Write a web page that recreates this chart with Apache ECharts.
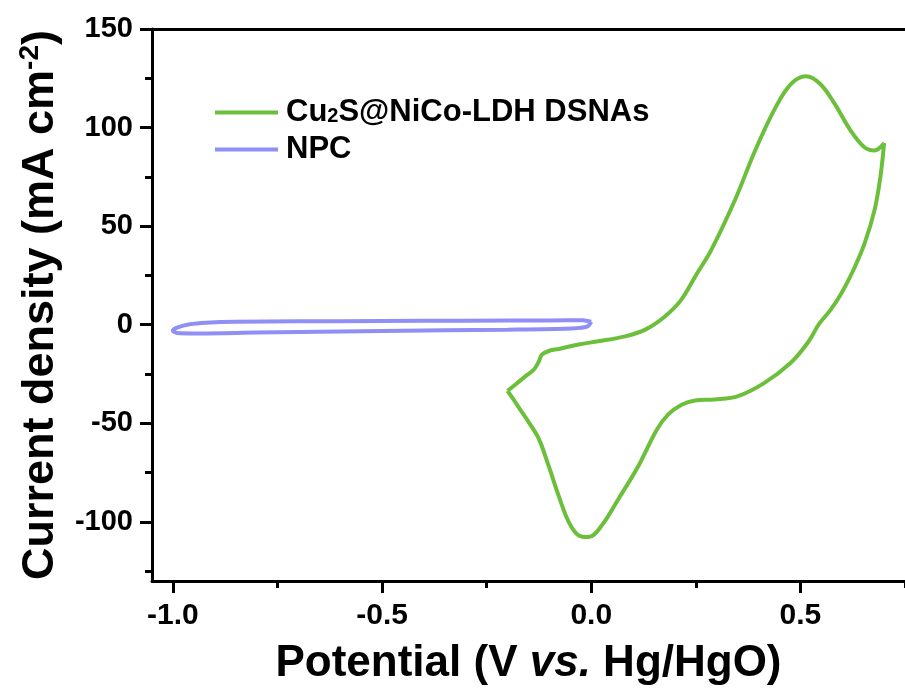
<!DOCTYPE html>
<html>
<head>
<meta charset="utf-8">
<script src="https://cdn.jsdelivr.net/npm/echarts@6/dist/echarts.min.js"></script>
<style>html,body{margin:0;padding:0;background:#fff}#c{width:905px;height:691px}</style>
</head>
<body>
<div id="c"></div>
<script>
// Data: [potential (V), current density (mA cm-2)]
const seriesNames = ['Cu2S@NiCo-LDH DSNAs', 'NPC'];
const cu2sData = [
  [-0.200,-33.5],[-0.181,-30.3],[-0.157,-26.1],[-0.137,-22.7],[-0.125,-18.5],[-0.118,-15.2],
  [-0.100,-13.2],[-0.078,-12.3],[-0.030,-10.0],[0.017,-8.4],[0.081,-5.9],[0.129,-2.5],
  [0.176,4.2],[0.215,12.6],[0.250,25.0],[0.287,38.0],[0.343,63.0],[0.391,88.0],
  [0.439,109.6],[0.477,122.0],[0.513,126.0],[0.548,122.0],[0.582,112.0],[0.620,98.5],
  [0.653,90.0],[0.677,88.4],[0.700,92.0],
  [0.691,74.7],[0.677,58.0],[0.653,41.0],[0.625,27.0],[0.598,16.0],[0.572,7.5],
  [0.545,0.5],[0.517,-9.3],[0.477,-19.3],[0.414,-29.5],[0.351,-36.2],[0.295,-37.9],
  [0.248,-38.4],[0.216,-40.6],[0.184,-45.5],[0.156,-53.5],[0.113,-71.5],[0.065,-88.4],
  [0.025,-101.9],[-0.006,-107.7],[-0.030,-106.9],[-0.054,-100.0],[-0.078,-86.7],
  [-0.102,-71.5],[-0.125,-58.0],[-0.149,-49.6],[-0.173,-42.0],[-0.200,-33.5]
];
const npcData = [
  [0.000,1.5],[-0.020,2.3],[-0.100,2.2],[-0.300,2.0],[-0.500,1.9],[-0.700,1.7],
  [-0.850,1.5],[-0.920,1.0],[-0.960,0.2],[-0.990,-1.5],[-1.000,-3.0],[-0.990,-4.2],
  [-0.950,-4.4],[-0.800,-4.0],[-0.500,-3.2],[-0.200,-2.5],[-0.050,-1.9],[-0.010,-1.0],
  [0.000,1.5]
];
const xMajorTicks = [-1.0, -0.5, 0.0, 0.5];
const xMinorTicks = [-0.75, -0.25, 0.25, 0.75];
const yMajorTicks = [-100, -50, 0, 50, 100, 150];
const yMinorTicks = [-125, -75, -25, 25, 75, 125];
const xTickLabels = ['-1.0', '-0.5', '0.0', '0.5'];
const yTickLabels = ['-100', '-50', '0', '50', '100', '150'];

const FONT = 'Liberation Sans';
const chart = echarts.init(document.getElementById('c'));
const axisLine = {show: true, onZero: false, lineStyle: {color: '#000', width: 3}};
const noLine = {show: false, onZero: false};
const xRange = {min: -1.05, max: 0.75};
const yRange = {min: -130, max: 150};

chart.setOption({
  animation: false,
  backgroundColor: '#fff',
  grid: {left: 152, right: -3, top: 29, bottom: 108},
  legend: {
    orient: 'vertical', left: 210, top: 92,
    itemWidth: 63, itemHeight: 4, itemGap: 6,
    icon: 'path://M0,0 L64,0 L64,4 L0,4 Z',
    data: seriesNames,
    formatter: function (n) { return n === seriesNames[0] ? 'Cu{s|2}S@NiCo-LDH DSNAs' : n; },
    textStyle: {
      fontFamily: FONT, fontWeight: 'bold', fontSize: 31, color: '#000', padding: [0, 0, 0, 3],
      rich: {s: {fontFamily: FONT, fontWeight: 'bold', fontSize: 20, color: '#000', padding: [8, 0, 0, 0]}}
    }
  },
  xAxis: [
    {
      type: 'value', position: 'bottom', ...xRange,
      axisLine: axisLine,
      splitLine: {show: false},
      axisTick: {show: true, length: 12, lineStyle: {color: '#000', width: 3}, customValues: xMajorTicks},
      axisLabel: {
        customValues: xMajorTicks, margin: 20,
        formatter: function (v) { const i = xMajorTicks.findIndex(t => Math.abs(t - v) < 1e-9); return i >= 0 ? xTickLabels[i] : ''; },
        fontFamily: FONT, fontWeight: 'bold', fontSize: 30, color: '#000'
      },
      name: 'Potential (V {i|vs.} Hg/HgO)', nameLocation: 'middle', nameGap: 61,
      nameTextStyle: {
        fontFamily: FONT, fontWeight: 'bold', fontSize: 44, color: '#000',
        rich: {i: {fontFamily: FONT, fontWeight: 'bold', fontStyle: 'italic', fontSize: 44, color: '#000'}}
      }
    },
    {
      type: 'value', position: 'bottom', ...xRange,
      axisLine: noLine, splitLine: {show: false}, axisLabel: {show: false},
      axisTick: {show: true, length: 7, lineStyle: {color: '#000', width: 3}, customValues: xMinorTicks}
    },
    {
      type: 'value', position: 'top', ...xRange,
      axisLine: axisLine, splitLine: {show: false}, axisLabel: {show: false}, axisTick: {show: false}
    }
  ],
  yAxis: [
    {
      type: 'value', position: 'left', ...yRange,
      axisLine: axisLine,
      splitLine: {show: false},
      axisTick: {show: true, length: 12, lineStyle: {color: '#000', width: 3}, customValues: yMajorTicks},
      axisLabel: {
        customValues: yMajorTicks, margin: 19,
        formatter: function (v) { const i = yMajorTicks.indexOf(Math.round(v)); return i >= 0 ? yTickLabels[i] : ''; },
        fontFamily: FONT, fontWeight: 'bold', fontSize: 29, color: '#000'
      },
      name: 'Current density (mA cm{sup|-2})', nameLocation: 'middle', nameGap: 86, nameRotate: 90,
      nameTextStyle: {
        fontFamily: FONT, fontWeight: 'bold', fontSize: 45, color: '#000',
        rich: {sup: {fontFamily: FONT, fontWeight: 'bold', fontSize: 28, color: '#000', padding: [0, 0, 22, 0]}}
      }
    },
    {
      type: 'value', position: 'left', ...yRange,
      axisLine: noLine, splitLine: {show: false}, axisLabel: {show: false},
      axisTick: {show: true, length: 7, lineStyle: {color: '#000', width: 3}, customValues: yMinorTicks}
    }
  ],
  series: [
    {
      name: seriesNames[0], type: 'line', data: cu2sData, xAxisIndex: 0, yAxisIndex: 0,
      symbol: 'none', smooth: 0.35, lineStyle: {color: '#6cbf3a', width: 4}, itemStyle: {color: '#6cbf3a'}
    },
    {
      name: seriesNames[1], type: 'line', data: npcData, xAxisIndex: 0, yAxisIndex: 0,
      symbol: 'none', smooth: 0.3, lineStyle: {color: '#8f8ff5', width: 4}, itemStyle: {color: '#8f8ff5'}
    }
  ]
});
</script>
</body>
</html>
